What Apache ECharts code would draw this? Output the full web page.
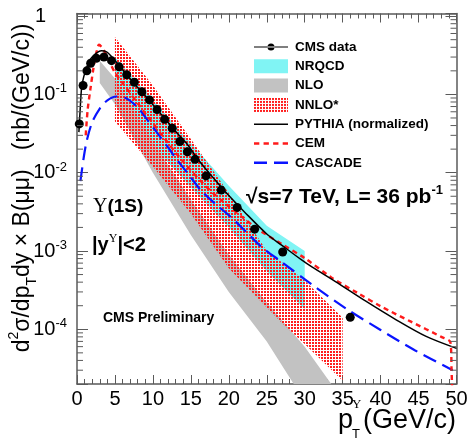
<!DOCTYPE html>
<html><head><meta charset="utf-8">
<script src="https://cdn.jsdelivr.net/npm/echarts/dist/echarts.min.js"></script>
<style>html,body{margin:0;padding:0;background:#fff}#c{width:468px;height:441px}</style>
</head><body><div id="c"></div>
<script>
// ---------------- data ----------------
const xTicks = [0, 5, 10, 15, 20, 25, 30, 35, 40, 45, 50];
const dataPt = [0.3, 0.8, 1.3, 1.8, 2.55, 3.55, 4.55, 5.55, 6.55, 7.55, 8.55, 9.55, 10.55, 11.55, 12.55, 13.55, 14.55, 15.55, 17.0, 19.0, 21.1, 23.4, 27.1, 36.0];
const dataY  = [0.042, 0.13, 0.20, 0.25, 0.29, 0.30, 0.27, 0.225, 0.178, 0.143, 0.108, 0.085, 0.064, 0.048, 0.037, 0.025, 0.0185, 0.0148, 0.0091, 0.0060, 0.0036, 0.0019, 0.00097, 0.000142];

const pythiaPt = [0.25, 0.4, 0.6, 0.9, 1.2, 1.6, 2.0, 2.6, 3.2, 3.9, 4.6, 5.3, 6.6, 7.9, 9.3, 10.6, 11.9, 13.2, 14.6, 16, 18, 20, 22, 25, 27, 29.5, 31, 34, 38, 42, 46, 50];
const pythiaY  = [0.033, 0.06, 0.12, 0.17, 0.21, 0.265, 0.30, 0.34, 0.36, 0.35, 0.30, 0.25, 0.176, 0.125, 0.089, 0.063, 0.045, 0.032, 0.0226, 0.0145, 0.0085, 0.0051, 0.0032, 0.00165, 0.00118, 0.00078, 0.00062, 0.00041, 0.00023, 0.000133, 0.000081, 0.000057];

const cemPt = [1.15, 1.4, 1.75, 2.2, 2.6, 2.9, 3.5, 4.3, 5, 6, 7, 8, 9, 10, 11, 12, 13, 14, 15, 16, 18, 20, 22, 24, 27, 30, 33.5, 37, 40, 44, 48, 49.2, 49.35, 49.5];
const cemY  = [0.03, 0.063, 0.114, 0.226, 0.36, 0.43, 0.37, 0.26, 0.19, 0.14, 0.104, 0.077, 0.057, 0.043, 0.032, 0.024, 0.018, 0.0138, 0.0107, 0.0084, 0.0054, 0.0037, 0.0026, 0.00185, 0.00122, 0.00081, 0.00046, 0.00029, 0.000197, 0.000125, 0.00008, 0.000068, 0.00003, 0.00001];

const cascadePt = [0.45, 0.9, 1.3, 2, 3, 4, 5.2, 6.5, 8, 9.3, 10.6, 12, 13.2, 14.6, 16.3, 18.1, 20.3, 22.3, 24.3, 27, 31, 35.7, 40, 44.5, 49.5];
const cascadeY  = [0.0078, 0.016, 0.026, 0.044, 0.066, 0.084, 0.094, 0.089, 0.068, 0.047, 0.032, 0.021, 0.0145, 0.0098, 0.0060, 0.0041, 0.0027, 0.00175, 0.00113, 0.00072, 0.00037, 0.000177, 0.000098, 0.000054, 0.00003];

const nrqcdPt = [5, 10, 15, 20, 25, 30];
const nrqcdUp = [0.30, 0.085, 0.024, 0.0068, 0.0021, 0.001];
const nrqcdLo = [0.09, 0.022, 0.0065, 0.0020, 0.00055, 0.00018];

const nloPt = [3, 5, 10, 15, 20, 25, 30, 33.5];
const nloUp = [0.27, 0.16, 0.025, 0.0045, 0.0009, 0.00022, 0.00006, 0.00002];
const nloLo = [0.14, 0.075, 0.010, 0.0016, 0.0003, 0.00007, 0.000012, 0.000004];

const nnloPt = [5, 10, 15, 20, 25, 27, 30, 35];
const nnloUp = [0.54, 0.13, 0.027, 0.0055, 0.001, 0.00072, 0.00042, 0.00014];
const nnloLo = [0.045, 0.012, 0.003, 0.0006, 0.00019, 0.00012, 0.000065, 0.000022];

const yMin = 2e-5, yMax = 1.08, xMin = 0, xMax = 50;
// ---------------------------------------

const FONT = '"Liberation Sans", Arial, Helvetica, sans-serif';
const SERIF = '"Liberation Serif", "DejaVu Serif", serif';
const AX = '#5a5a5a';

const zip = (a, b) => a.map((v, i) => [v, b[i]]);

// hatch pattern for NNLO*: 2x2 red blocks separated by 1px gaps
const pc = document.createElement('canvas');
pc.width = 3; pc.height = 3;
const pctx = pc.getContext('2d');
pctx.fillStyle = '#ff1e1e';
pctx.fillRect(0, 0, 2, 2);
const hatch = { image: pc, repeat: 'repeat' };

const colNRQCD = '#80f4f4', colNLO = '#c2c2c2';

function bandSeries(name, pt, up, lo, fill, z) {
  return {
    name, type: 'custom', z, clip: true, silent: true,
    itemStyle: { color: fill },
    data: [[pt[0], up[0]]],
    renderItem: function (params, api) {
      const pts = [];
      for (let i = 0; i < pt.length; i++) pts.push(api.coord([pt[i], up[i]]));
      for (let i = pt.length - 1; i >= 0; i--) pts.push(api.coord([pt[i], lo[i]]));
      return { type: 'polygon', shape: { points: pts }, style: { fill: fill, stroke: null } };
    }
  };
}

// minor tick values for the log axis (2..9 x decade)
const minorVals = [];
for (let k = -5; k <= 0; k++) for (let m = 2; m <= 9; m++) {
  const v = m * Math.pow(10, k);
  if (v > yMin && v < yMax) minorVals.push(v);
}
function minorTickSeries(side) {
  return {
    type: 'custom', silent: true, z: 6, clip: false,
    data: minorVals.map(v => [side === 'left' ? xMin : xMax, v]),
    renderItem: function (params, api) {
      const p = api.coord([api.value(0), api.value(1)]);
      const d = side === 'left' ? 6 : -6;
      return { type: 'line', shape: { x1: p[0], y1: p[1], x2: p[0] + d, y2: p[1] },
               style: { stroke: AX, lineWidth: 1 } };
    }
  };
}

function yFmt(v) {
  const e = Math.log10(v), r = Math.round(e);
  if (Math.abs(e - r) > 1e-6) return '';
  if (r === 0) return '{one|1}';
  return '{b|10}{s|' + r + '}';
}

const axisCommon = {
  axisLine: { show: true, onZero: false, lineStyle: { color: AX, width: 1.5 } },
  splitLine: { show: false }
};

const chart = echarts.init(document.getElementById('c'), null, { renderer: 'canvas' });
chart.setOption({
  animation: false,
  backgroundColor: '#fff',
  grid: { left: 77, right: 11.5, top: 13.5, bottom: 57, containLabel: false, outerBoundsMode: 'none' },
  xAxis: [
    Object.assign({
      type: 'value', min: xMin, max: xMax, interval: 5, position: 'bottom',
      axisTick: { show: true, inside: true, length: 9, lineStyle: { color: AX } },
      minorTick: { show: true, splitNumber: 5, length: 5, lineStyle: { color: AX } },
      axisLabel: { fontSize: 20, color: '#000', fontFamily: FONT, margin: 5,
                   formatter: v => (xTicks.indexOf(v) >= 0 ? String(v) : '') }
    }, axisCommon),
    Object.assign({
      type: 'value', min: xMin, max: xMax, interval: 5, position: 'top',
      axisTick: { show: true, inside: true, length: 9, lineStyle: { color: AX } },
      minorTick: { show: true, splitNumber: 5, length: 5, lineStyle: { color: AX } },
      axisLabel: { show: false }
    }, axisCommon)
  ],
  yAxis: [
    Object.assign({
      type: 'log', logBase: 10, min: yMin, max: yMax, position: 'left',
      axisTick: { show: true, inside: true, length: 11, lineStyle: { color: AX } },
      axisLabel: {
        margin: 10, color: '#000', formatter: yFmt, showMinLabel: true, showMaxLabel: true,
        rich: {
          b: { fontSize: 20, fontFamily: FONT, color: '#000', lineHeight: 24 },
          s: { fontSize: 13, fontFamily: FONT, color: '#000', lineHeight: 13, verticalAlign: 'top' },
          one: { fontSize: 20, fontFamily: FONT, color: '#000', lineHeight: 24, padding: [0, 21, 0, 0] }
        }
      }
    }, axisCommon),
    Object.assign({
      type: 'log', logBase: 10, min: yMin, max: yMax, position: 'right',
      axisTick: { show: true, inside: true, length: 11, lineStyle: { color: AX } },
      axisLabel: { show: false }
    }, axisCommon)
  ],
  legend: {
    orient: 'vertical', left: 249, top: 35, itemWidth: 34, itemHeight: 14, itemGap: 5.3,
    selectedMode: false, symbolKeepAspect: true,
    textStyle: { fontFamily: FONT, fontWeight: 'bold', fontSize: 13.5, color: '#000', padding: [0, 0, 0, 2] },
    data: [
      { name: 'CMS data', icon: 'path://M0,3.4H34V4.6H0Z M13.5,4A3.5,3.5,0,1,0,20.5,4A3.5,3.5,0,1,0,13.5,4Z', itemStyle: { color: '#000', opacity: 1 } },
      { name: 'NRQCD', icon: 'rect', itemStyle: { color: colNRQCD } },
      { name: 'NLO', icon: 'rect', itemStyle: { color: colNLO } },
      { name: 'NNLO*', icon: 'rect', itemStyle: { color: hatch } },
      { name: 'PYTHIA (normalized)', icon: 'path://M0,0H34V1.5H0Z', itemStyle: { color: '#000' } },
      { name: 'CEM', icon: 'path://M0,0H5V2.4H0Z M9,0H14V2.4H9Z M18,0H23V2.4H18Z M27,0H32V2.4H27Z', itemStyle: { color: '#ff1a1a' } },
      { name: 'CASCADE', icon: 'path://M0,0H13V2.4H0Z M20,0H34V2.4H20Z', itemStyle: { color: '#0a14ff' } }
    ]
  },
  series: [
    bandSeries('NRQCD', nrqcdPt, nrqcdUp, nrqcdLo, colNRQCD, 1),
    bandSeries('NLO', nloPt, nloUp, nloLo, colNLO, 1),
    bandSeries('NNLO*', nnloPt, nnloUp, nnloLo, hatch, 1),
    { name: 'CASCADE', type: 'line', data: zip(cascadePt, cascadeY), symbol: 'none', smooth: 0.3, z: 3,
      lineStyle: { color: '#0a14ff', width: 2.2, type: [14, 7] }, itemStyle: { color: '#0a14ff' } },
    { name: 'CEM', type: 'line', data: zip(cemPt, cemY), symbol: 'none', smooth: 0.3, z: 3,
      lineStyle: { color: '#ff1a1a', width: 2.4, type: [5, 4] }, itemStyle: { color: '#ff1a1a' } },
    { name: 'PYTHIA (normalized)', type: 'line', data: zip(pythiaPt, pythiaY), symbol: 'none', smooth: 0.3, z: 4,
      lineStyle: { color: '#000', width: 1.5 }, itemStyle: { color: '#000' } },
    { name: 'CMS data', type: 'scatter', data: zip(dataPt, dataY), symbol: 'circle', symbolSize: 9, z: 5,
      itemStyle: { color: '#000', opacity: 1 } },
    minorTickSeries('left'),
    minorTickSeries('right')
  ],
  graphic: [
    { type: 'text', x: 23, y: 188, rotation: Math.PI / 2, silent: true,
      style: { text: '{n|d}{p|2}{n|σ/dp}{t|T}{n|dy × B(μμ)   (nb/(GeV/c))}', align: 'center', verticalAlign: 'middle',
        rich: {
          n: { fontSize: 23, fontFamily: FONT, fill: '#000', lineHeight: 32 },
          p: { fontSize: 14, fontFamily: FONT, fill: '#000', lineHeight: 14, verticalAlign: 'top' },
          t: { fontSize: 14, fontFamily: FONT, fill: '#000', lineHeight: 14, verticalAlign: 'bottom' }
        } } },
    { type: 'text', x: 338, y: 421, silent: true,
      style: { text: 'p', font: '27px ' + FONT, fill: '#000', align: 'left', verticalAlign: 'middle' } },
    { type: 'text', x: 352, y: 405, silent: true,
      style: { text: 'Υ', font: '13px ' + SERIF, fill: '#000', align: 'left', verticalAlign: 'middle' } },
    { type: 'text', x: 352, y: 434, silent: true,
      style: { text: 'T', font: '13px ' + FONT, fill: '#000', align: 'left', verticalAlign: 'middle' } },
    { type: 'text', x: 363, y: 421, silent: true,
      style: { text: '(GeV/c)', font: '27px ' + FONT, fill: '#000', align: 'left', verticalAlign: 'middle' } },
    { type: 'text', x: 93, y: 207, silent: true,
      style: { text: '{u|Υ}{b|(1S)}', verticalAlign: 'middle', align: 'left',
        rich: { u: { fontSize: 20, fontFamily: SERIF, fill: '#000' },
                b: { fontSize: 19, fontFamily: FONT, fontWeight: 'bold', fill: '#000' } } } },
    { type: 'text', x: 92, y: 245, silent: true,
      style: { text: '{b||y}{s|Υ}{b||<2}', verticalAlign: 'middle', align: 'left',
        rich: { b: { fontSize: 20, fontFamily: FONT, fontWeight: 'bold', fill: '#000', lineHeight: 24 },
                s: { fontSize: 12, fontFamily: SERIF, fill: '#000', lineHeight: 12, verticalAlign: 'top' } } } },
    { type: 'text', x: 103, y: 318, silent: true,
      style: { text: 'CMS Preliminary', font: 'bold 14px ' + FONT, fill: '#000', align: 'left', verticalAlign: 'middle' } },
    { type: 'text', x: 246, y: 197, silent: true,
      style: { text: '{b|√s=7 TeV, L= 36 pb}{s|-1}', verticalAlign: 'middle', align: 'left',
        rich: { b: { fontSize: 21, fontFamily: FONT, fontWeight: 'bold', fill: '#000', lineHeight: 26 },
                s: { fontSize: 13, fontFamily: FONT, fontWeight: 'bold', fill: '#000', lineHeight: 13, verticalAlign: 'top' } } } }
  ]
});
</script>
</body></html>
